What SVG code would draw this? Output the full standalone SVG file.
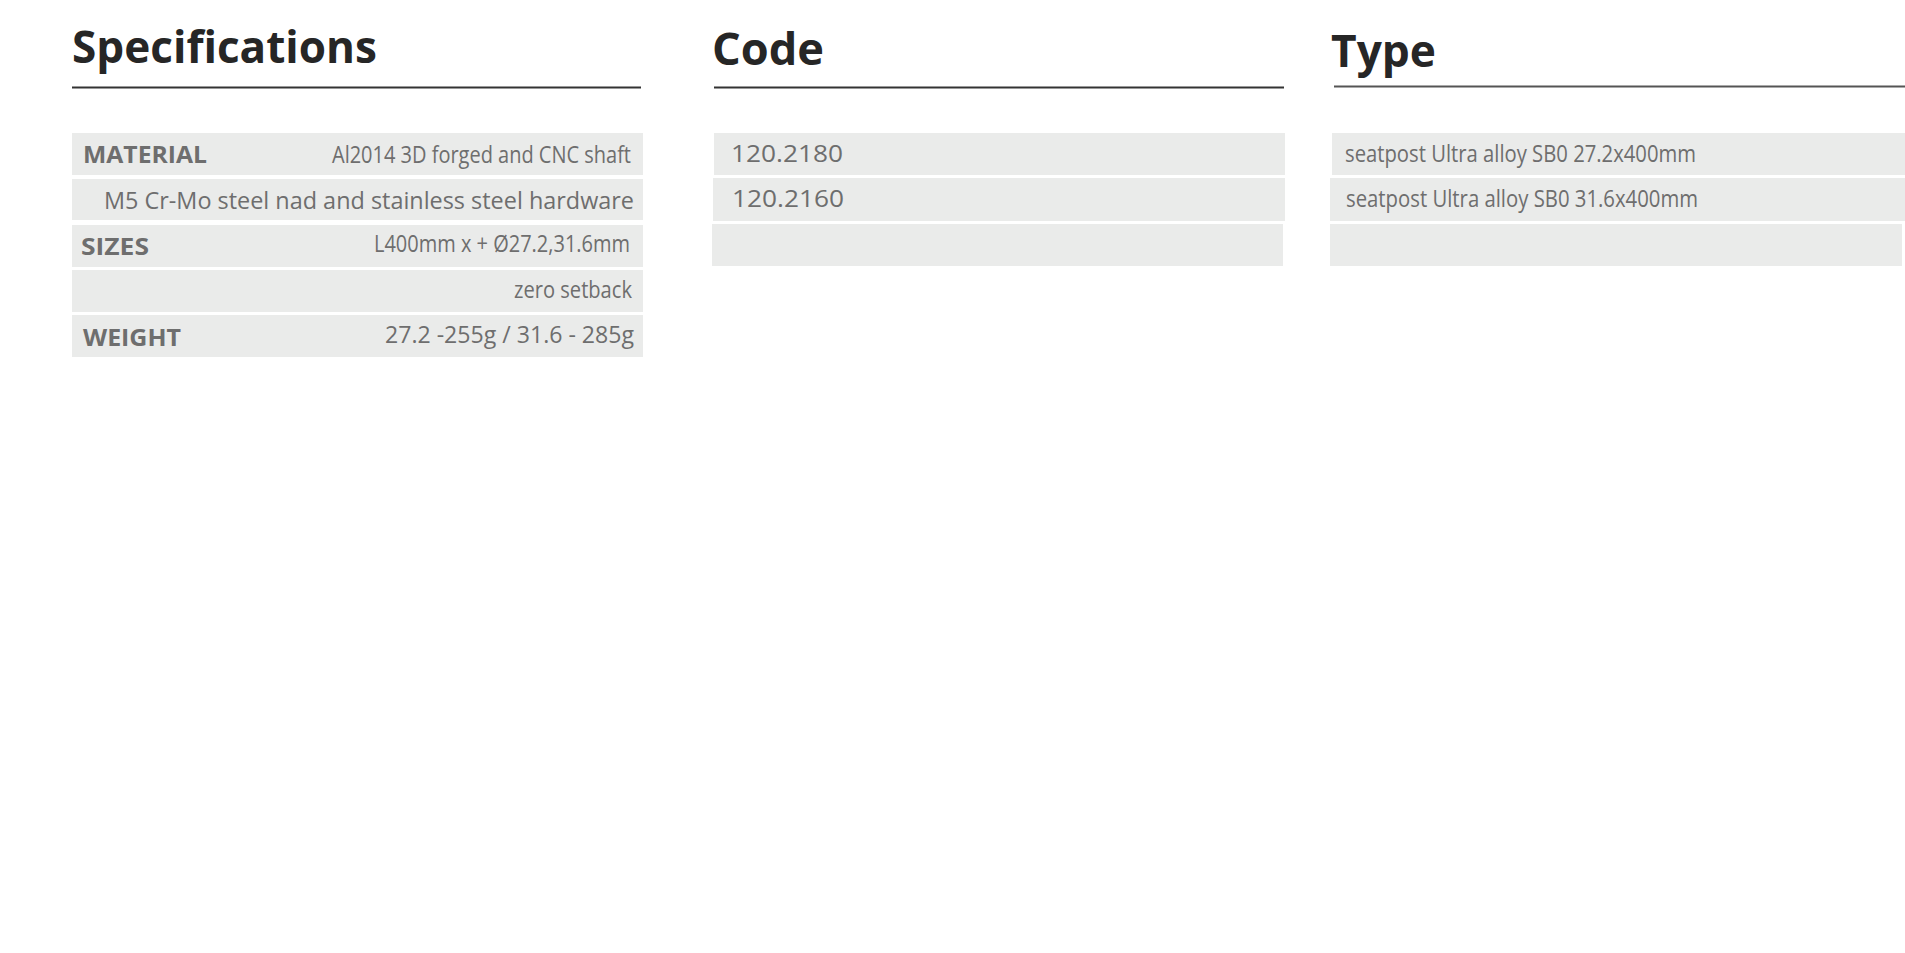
<svg xmlns="http://www.w3.org/2000/svg" width="1905" height="953" viewBox="0 0 1905 953">
<style>
.bg{fill:#ffffff}
.row{fill:#eaebea}
.title{font-family:"Open Sans","Liberation Sans",sans-serif;font-weight:bold;font-size:44px;fill:#262626}
.rule{stroke:#333333;stroke-width:2;fill:none}
.lbl{font-family:"Open Sans","Liberation Sans",sans-serif;font-weight:bold;font-size:23px;fill:#6e6e6e}
.val{font-family:"Open Sans","Liberation Sans",sans-serif;font-size:23px;fill:#6e6e6e}
</style>
<rect class="bg" x="0" y="0" width="1905" height="953"/>
<g id="specifications">
  <text class="title" x="72" y="63" textLength="305" lengthAdjust="spacingAndGlyphs">Specifications</text>
  <line class="rule" x1="72" y1="87.5" x2="641" y2="87.5"/>
  <g id="spec-material">
    <rect class="row" x="72" y="133" width="571" height="42"/>
    <text class="lbl" x="83" y="163" textLength="124" lengthAdjust="spacingAndGlyphs">MATERIAL</text>
    <text class="val" x="332" y="163" textLength="299" lengthAdjust="spacingAndGlyphs">Al2014 3D forged and CNC shaft</text>
  </g>
  <g id="spec-hardware">
    <rect class="row" x="72" y="179" width="571" height="41"/>
    <text class="val" x="104" y="209" textLength="530" lengthAdjust="spacingAndGlyphs">M5 Cr-Mo steel nad and stainless steel hardware</text>
  </g>
  <g id="spec-sizes">
    <rect class="row" x="72" y="225" width="571" height="42"/>
    <text class="lbl" x="81" y="255" textLength="68" lengthAdjust="spacingAndGlyphs">SIZES</text>
    <text class="val" x="374" y="252" textLength="256" lengthAdjust="spacingAndGlyphs">L400mm x + Ø27.2,31.6mm</text>
  </g>
  <g id="spec-setback">
    <rect class="row" x="72" y="270" width="571" height="42"/>
    <text class="val" x="514" y="298" textLength="118" lengthAdjust="spacingAndGlyphs">zero setback</text>
  </g>
  <g id="spec-weight">
    <rect class="row" x="72" y="315" width="571" height="42"/>
    <text class="lbl" x="83" y="346" textLength="98" lengthAdjust="spacingAndGlyphs">WEIGHT</text>
    <text class="val" x="385" y="343" textLength="249" lengthAdjust="spacingAndGlyphs">27.2 -255g / 31.6 - 285g</text>
  </g>
</g>
<g id="code">
  <text class="title" x="712" y="65" textLength="112" lengthAdjust="spacingAndGlyphs">Code</text>
  <line class="rule" x1="714" y1="87.5" x2="1284" y2="87.5"/>
  <g id="code-1">
    <rect class="row" x="714" y="133" width="571" height="42"/>
    <text class="val" x="731" y="162" textLength="112" lengthAdjust="spacingAndGlyphs">120.2180</text>
  </g>
  <g id="code-2">
    <rect class="row" x="713" y="178" width="572" height="43"/>
    <text class="val" x="732" y="207" textLength="112" lengthAdjust="spacingAndGlyphs">120.2160</text>
  </g>
  <g id="code-3">
    <rect class="row" x="712" y="224" width="571" height="42"/>
  </g>
</g>
<g id="type">
  <text class="title" x="1331" y="67" textLength="105" lengthAdjust="spacingAndGlyphs">Type</text>
  <line class="rule" x1="1334" y1="86.5" x2="1905" y2="86.5" style="stroke:#555555"/>
  <g id="type-1">
    <rect class="row" x="1332" y="133" width="573" height="42"/>
    <text class="val" x="1345" y="162" textLength="351" lengthAdjust="spacingAndGlyphs">seatpost Ultra alloy SB0 27.2x400mm</text>
  </g>
  <g id="type-2">
    <rect class="row" x="1330" y="178" width="575" height="43"/>
    <text class="val" x="1346" y="207" textLength="352" lengthAdjust="spacingAndGlyphs">seatpost Ultra alloy SB0 31.6x400mm</text>
  </g>
  <g id="type-3">
    <rect class="row" x="1330" y="224" width="572" height="42"/>
  </g>
</g>
</svg>
